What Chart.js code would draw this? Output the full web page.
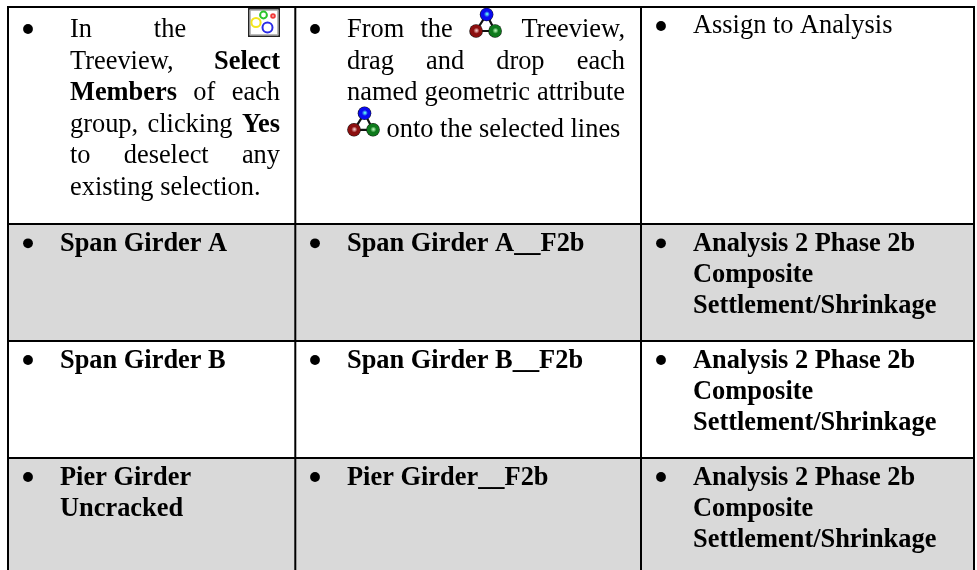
<!DOCTYPE html>
<html>
<head>
<meta charset="utf-8">
<title>Group assignment table</title>
<script src="https://cdn.jsdelivr.net/npm/chart.js@4"></script>
<style>
html, body { margin: 0; padding: 0; background: #fff; }
canvas { display: block; }
</style>
</head>
<body>
<canvas id="tableChart" width="977" height="570"></canvas>
<script>
// Table content. *word* means bold, @palette and @triad are inline icons
const selectLines = ['In the @palette', 'Treeview, *Select*', '*Members* of each', 'group, clicking *Yes*', 'to deselect any', 'existing selection.'];
const dragLines = ['From the @triadWide Treeview,', 'drag and drop each', 'named geometric attribute', '@triad onto the selected lines'];
const assignLines = ['Assign to Analysis'];
const analysisLines = ['*Analysis 2 Phase 2b*', '*Composite*', '*Settlement/Shrinkage*'];
const groupNames = [['*Span Girder A*'], ['*Span Girder B*'], ['*Pier Girder*', '*Uncracked*']];
const attributeNames = ['*Span Girder A__F2b*', '*Span Girder B__F2b*', '*Pier Girder__F2b*'];

// Table grid, in canvas units
const columnEdges = [8, 295.3, 641, 974];
const rowEdges = [7, 224, 341, 458];
const tableBottom = 570;
const shadedRows = [[224, 341], [458, 570]];
const bulletColumns = [28, 315, 661];
const bulletRows = [[29, 29, 26], [243.3, 243.3, 243.3], [360, 360, 360], [477, 477, 477]];
const lineTops = [37, 251, 368.3, 485.3];

const textFont = '26.4px "Liberation Serif"';
const boldFont = 'bold 26.4px "Liberation Serif"';
const lineStep = 31;
const shadeColor = '#d9d9d9';

const iconWidths = { '@palette': 32, '@triad': 33, '@triadWide': 36 };

// Build line datasets for the shaded rows, rules and bullets
const shadeSets = shadedRows.map(band => ({
    type: 'line',
    data: [{ x: columnEdges[0], y: band[0] }, { x: columnEdges[3], y: band[0] }],
    fill: { value: band[1] },
    backgroundColor: shadeColor,
    borderWidth: 0,
    pointRadius: 0,
    order: 5
}));

const ruleStyle = { type: 'line', borderColor: '#000', borderWidth: 2, borderCapStyle: 'square', pointRadius: 0, fill: false, order: 2 };
const rowRules = rowEdges.map(y => ({ ...ruleStyle, data: [{ x: columnEdges[0], y }, { x: columnEdges[3], y }] }));
const columnRules = columnEdges.map(x => ({ ...ruleStyle, data: [{ x, y: rowEdges[0] }, { x, y: tableBottom }] }));

const bulletPoints = [];
bulletRows.forEach(row => row.forEach((y, i) => bulletPoints.push({ x: bulletColumns[i], y })));
const bulletSet = { type: 'scatter', data: bulletPoints, backgroundColor: '#000', borderWidth: 0, pointRadius: 4.9, order: 1 };

function drawPalette(ctx, x, y) {
    ctx.save();
    ctx.fillStyle = '#fff';
    ctx.fillRect(x, y, 32, 29);
    ctx.strokeStyle = '#222';
    ctx.lineWidth = 1.6;
    ctx.strokeRect(x + 0.8, y + 0.8, 30.4, 27.4);
    ctx.strokeStyle = '#aaa';
    ctx.lineWidth = 1.2;
    ctx.strokeRect(x + 2.2, y + 2.2, 27.6, 24.6);
    const rings = [[8, 14.5, 4.6, '#f4e61c'], [15.5, 7, 3.4, '#2bc42b'], [25, 8, 1.8, '#f03a3a'], [19.5, 19.5, 5, '#2a2ae6']];
    rings.forEach(r => {
        ctx.strokeStyle = r[3];
        ctx.lineWidth = 2;
        ctx.beginPath();
        ctx.arc(x + r[0], y + r[1], r[2], 0, Math.PI * 2);
        ctx.stroke();
    });
    ctx.restore();
}

function drawBall(ctx, x, y, r, dark, light) {
    const g = ctx.createRadialGradient(x + 0.5, y - 0.5, 0.5, x, y, r);
    g.addColorStop(0, light);
    g.addColorStop(0.4, dark);
    g.addColorStop(0.82, dark);
    g.addColorStop(1, '#111');
    ctx.fillStyle = g;
    ctx.beginPath();
    ctx.arc(x, y, r, 0, Math.PI * 2);
    ctx.fill();
}

// x is the left edge of the icon, top is the y of the blue ball
function drawTriad(ctx, x, top) {
    const bx = x + 17.5, rx = x + 7, gx = x + 26, by = top, ly = top + 16.5;
    ctx.save();
    ctx.strokeStyle = '#111';
    ctx.lineWidth = 2.2;
    ctx.beginPath();
    ctx.moveTo(bx, by);
    ctx.lineTo(rx, ly);
    ctx.lineTo(gx, ly);
    ctx.closePath();
    ctx.stroke();
    drawBall(ctx, rx, ly, 6.8, '#8c0f0f', '#f0c0c0');
    drawBall(ctx, gx, ly, 6.8, '#0e7a1c', '#b0f0b0');
    drawBall(ctx, bx, by, 6.8, '#0a0af0', '#5ff0f0');
    ctx.restore();
}

const iconTops = { 37: 14.5, 136.7: 113.3 };

// Lay out one line of words; justified lines spread the spare width between them
function drawLine(ctx, line, left, right, base, justify) {
    const tokens = [];
    let bold = false;
    line.split(' ').forEach(raw => {
        let word = raw;
        const opens = word.startsWith('*');
        const closes = word.endsWith('*');
        word = word.replace(/\*/g, '');
        if (opens) bold = true;
        tokens.push({ text: word, bold });
        if (closes) bold = false;
    });
    const widths = tokens.map(t => {
        if (iconWidths[t.text]) return iconWidths[t.text];
        ctx.font = t.bold ? boldFont : textFont;
        return ctx.measureText(t.text).width;
    });
    ctx.font = textFont;
    let gap = ctx.measureText(' ').width;
    if (justify && tokens.length > 1) {
        const used = widths.reduce((a, b) => a + b, 0);
        gap = (right - left - used) / (tokens.length - 1);
    }
    let x = left;
    tokens.forEach((t, i) => {
        if (t.text === '@palette') {
            drawPalette(ctx, x, 8);
        } else if (t.text.startsWith('@triad')) {
            drawTriad(ctx, x, iconTops[base]);
        } else {
            ctx.font = t.bold ? boldFont : textFont;
            ctx.fillText(t.text, x, base);
        }
        x += widths[i] + gap;
    });
}

function drawCell(ctx, lines, left, right, firstBase, justify, step) {
    lines.forEach((line, i) => {
        const isLast = i === lines.length - 1;
        drawLine(ctx, line, left, right, firstBase + i * step, justify && !isLast);
    });
}

const cellTextPlugin = {
    id: 'cellText',
    afterDatasetsDraw(chart) {
        const ctx = chart.ctx;
        ctx.save();
        ctx.fillStyle = '#000';
        ctx.textBaseline = 'alphabetic';
        ctx.filter = 'blur(0.35px)'; // the source picture is a soft scan

        // Header row has hand-set baselines because of the icons
        const selectBases = [37, 68.5, 100, 131.5, 163, 195];
        selectLines.forEach((line, i) => {
            drawLine(ctx, line, 70, 280, selectBases[i], i < selectLines.length - 1);
        });
        const dragBases = [37, 68.5, 100, 136.7];
        dragLines.forEach((line, i) => {
            drawLine(ctx, line, 347, 625, dragBases[i], i < dragLines.length - 1);
        });
        drawCell(ctx, assignLines, 693, 960, 33, false, lineStep);

        // Body rows
        groupNames.forEach((lines, r) => {
            drawCell(ctx, lines, 60, 280, lineTops[r + 1], false, lineStep);
            drawCell(ctx, [attributeNames[r]], 347, 625, lineTops[r + 1], false, lineStep);
            drawCell(ctx, analysisLines, 693, 960, lineTops[r + 1], false, lineStep);
        });
        ctx.restore();
    }
};

new Chart(document.getElementById('tableChart').getContext('2d'), {
    type: 'line',
    data: { datasets: [...shadeSets, ...rowRules, ...columnRules, bulletSet] },
    options: {
        responsive: false,
        animation: false,
        parsing: false,
        layout: { padding: 0, autoPadding: false },
        scales: {
            x: { type: 'linear', display: false, min: 0, max: 977 },
            y: { type: 'linear', display: false, min: 0, max: 570, reverse: true }
        },
        plugins: { legend: { display: false }, tooltip: { enabled: false } }
    },
    plugins: [cellTextPlugin]
});
</script>
</body>
</html>
